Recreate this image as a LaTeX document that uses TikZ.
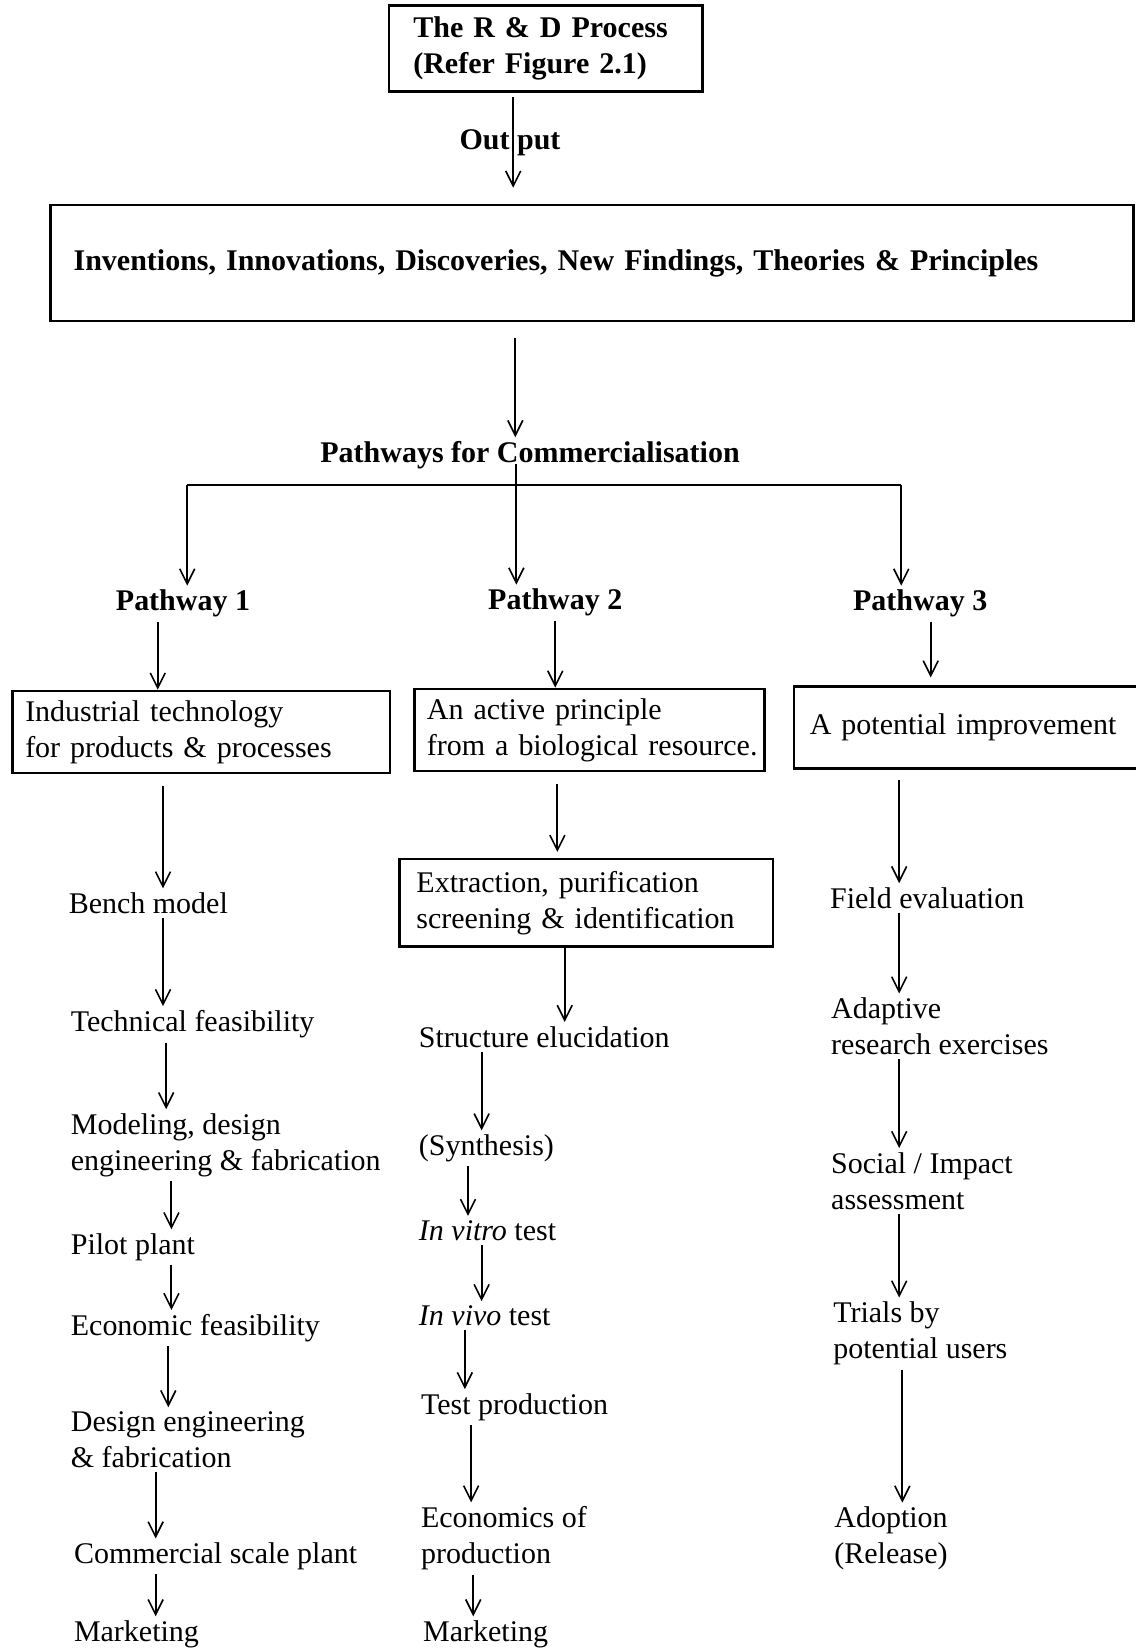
\documentclass[tikz,border=0pt]{standalone}
\usepackage{fontspec}
\setmainfont{Liberation Serif}
\usetikzlibrary{arrows.meta}
\begin{document}
\begin{tikzpicture}[x=0.526pt,y=-0.526pt,
  every node/.style={font=\fontsize{15}{18}\selectfont},
  bf/.style={font=\fontsize{15}{18}\selectfont\bfseries, inner sep=2pt},
  box/.style={draw, line width=1.3pt, align=left, inner ysep=0pt},
  lbl/.style={anchor=west, align=left, inner xsep=0pt, inner ysep=2pt},
  arr/.style={line width=1pt, -{Straight Barb[length=7.5pt,width=7.5pt,line width=0.8pt]}},
  ln/.style={line width=1pt}]
\useasboundingbox (0,0) rectangle (1080,1568);
\fill[white] (0,0) rectangle (1080,1568);

% top
\node[box, bf, inner xsep=12.1pt, text width=132.5pt, minimum height=43.1pt] (rd) at (519,46)
  {The R \& D Process\\(Refer Figure 2.1)};
\node[bf] (out) at (485,136) {Out put};
\node[box, bf, inner xsep=11.6pt, text width=518.6pt, minimum height=57.9pt] (inv) at (563,250)
  {Inventions, Innovations, Discoveries, New Findings, Theories \& Principles};
\node[bf] (pfc) at (504,433) {Pathways for Commercialisation};
\node[bf] (pw1) at (174,574) {Pathway 1};
\node[bf] (pw2) at (528,573) {Pathway 2};
\node[bf] (pw3) at (875,574) {Pathway 3};

% pathway boxes
\node[box, inner xsep=6.3pt, text width=176.2pt, minimum height=41pt] (p1box) at (191.5,696)
  {Industrial technology\\for products \& processes};
\node[box, inner xsep=6.3pt, text width=162.6pt, minimum height=41pt] (p2box) at (560.5,694)
  {An active principle\\\mbox{from a biological resource.}};
\node[box, inner xsep=7.9pt, text width=163pt, minimum height=41pt] (p3box) at (925,692)
  {A potential improvement};

% column 1
\node[lbl] (bench) at (65,859) {Bench model};
\node[lbl] (tech) at (67,974) {Technical feasibility};
\node[lbl] (model) at (67,1089) {Modeling, design\\engineering \& fabrication};
\node[lbl] (pilot) at (67,1186) {Pilot plant};
\node[lbl] (econ) at (67,1263) {Economic feasibility};
\node[lbl] (design) at (67,1369) {Design engineering\\\& fabrication};
\node[lbl] (comm) at (70,1480) {Commercial scale plant};
\node[lbl] (mkt1) at (70,1554) {Marketing};

% column 2
\node[box, inner xsep=8.4pt, text width=169.9pt, minimum height=43.7pt] (extr) at (557.5,858.5)
  {Extraction, purification\\screening \& identification};
\node[lbl] (struct) at (398,986) {Structure elucidation};
\node[lbl] (synth) at (398,1092) {(Synthesis)};
\node[lbl] (vitro) at (398,1170) {\textit{In vitro} test};
\node[lbl] (vivo) at (398,1251) {\textit{In vivo} test};
\node[lbl] (testp) at (400,1338) {Test production};
\node[lbl] (econp) at (400,1463) {Economics of\\production};
\node[lbl] (mkt2) at (402,1554) {Marketing};

% column 3
\node[lbl] (field) at (789,854) {Field evaluation};
\node[lbl] (adapt) at (790,976) {Adaptive\\research exercises};
\node[lbl] (social) at (790,1123) {Social / Impact\\assessment};
\node[lbl] (trials) at (792,1268) {Trials by\\potential users};
\node[lbl] (adopt) at (793,1463) {Adoption\\(Release)};

% connectors top
\draw[arr, shorten <=2pt, shorten >=8pt] (rd.south -| 488,0) -- (inv.north -| 488,0);
\draw[arr, shorten <=8pt] (inv.south -| 490,0) -- (pfc.north -| 490,0);
\draw[arr, shorten <=-5pt] (pfc.south -| 491,0) -- (pw2.north -| 491,0);
\coordinate (bl) at (178,461);
\coordinate (br) at (857,461);
\draw[ln] (bl) -- (br);
\draw[arr] (bl) -- (pw1.north -| bl);
\draw[arr] (br) -- (pw3.north -| br);
\draw[arr] (pw1.south -| 150,0) -- (p1box.north -| 150,0);
\draw[arr] (pw2.south -| 528,0) -- (p2box.north -| 528,0);
\draw[arr, shorten >=4pt] (pw3.south -| 885,0) -- (p3box.north -| 885,0);

% column 1 connectors
\draw[arr, shorten <=6pt] (p1box.south -| 155,0) -- (bench.north -| 155,0);
\draw[arr] (bench.south -| 155,0) -- (tech.north -| 155,0);
\draw[arr] (tech.south -| 158,0) -- (model.north -| 158,0);
\draw[arr] (model.south -| 163,0) -- (pilot.north -| 163,0);
\draw[arr] (pilot.south -| 163,0) -- (econ.north -| 163,0);
\draw[arr] (econ.south -| 160,0) -- (design.north -| 160,0);
\draw[arr] (design.south -| 148,0) -- (comm.north -| 148,0);
\draw[arr] (comm.south -| 148,0) -- (mkt1.north -| 148,0);

% column 2 connectors
\draw[arr, shorten <=6pt, shorten >=3pt] (p2box.south -| 530,0) -- (extr.north -| 530,0);
\draw[arr] (extr.south -| 537,0) -- (struct.north -| 537,0);
\draw[arr] (struct.south -| 458,0) -- (synth.north -| 458,0);
\draw[arr] (synth.south -| 445,0) -- (vitro.north -| 445,0);
\draw[arr] (vitro.south -| 458,0) -- (vivo.north -| 458,0);
\draw[arr] (vivo.south -| 442,0) -- (testp.north -| 442,0);
\draw[arr] (testp.south -| 448,0) -- (econp.north -| 448,0);
\draw[arr] (econp.south -| 450,0) -- (mkt2.north -| 450,0);

% column 3 connectors
\draw[arr, shorten <=5pt] (p3box.south -| 855,0) -- (field.north -| 855,0);
\draw[arr] (field.south -| 855,0) -- (adapt.north -| 855,0);
\draw[arr] (adapt.south -| 855,0) -- (social.north -| 855,0);
\draw[arr] (social.south -| 855,0) -- (trials.north -| 855,0);
\draw[arr] (trials.south -| 858,0) -- (adopt.north -| 858,0);
\end{tikzpicture}
\end{document}
